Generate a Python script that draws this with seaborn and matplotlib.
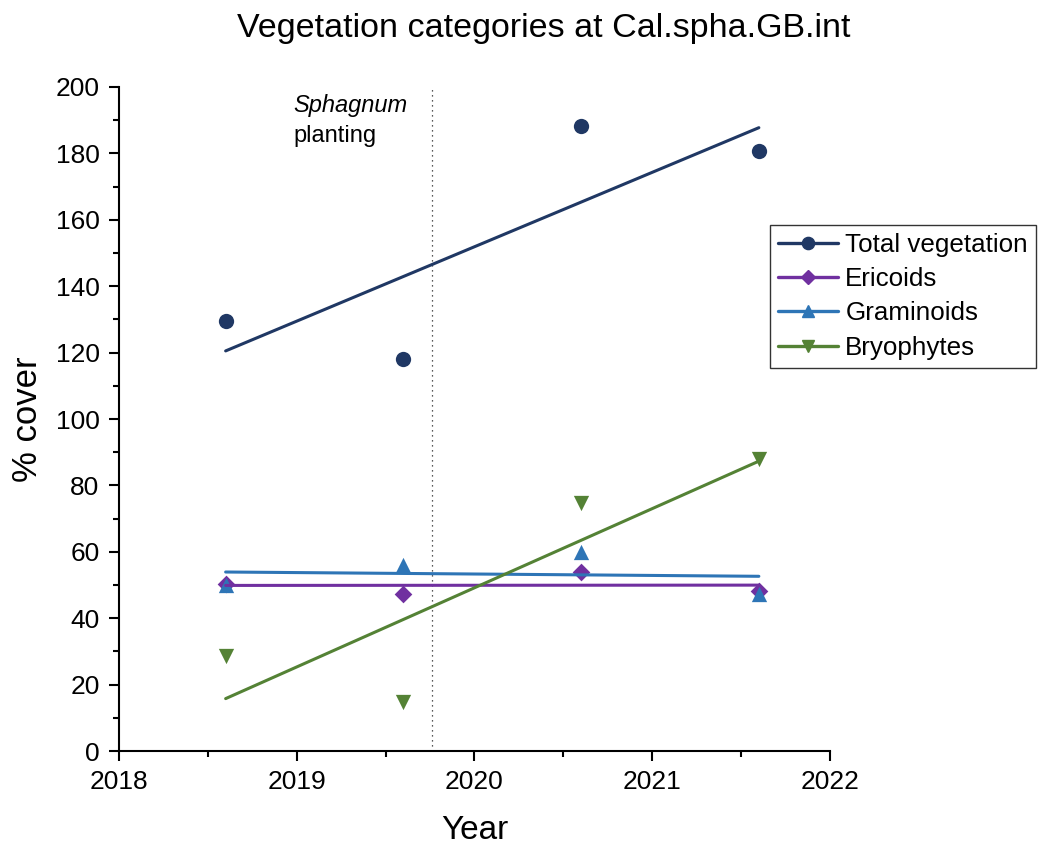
import numpy as np
import pandas as pd
import matplotlib
matplotlib.use('Agg')
import matplotlib.pyplot as plt
from matplotlib.lines import Line2D
from matplotlib.ticker import MultipleLocator
import seaborn as sns

years = [2018.6, 2019.6, 2020.6, 2021.6]
total_veg = [129.4, 118.1, 188.3, 180.7]
ericoids = [50.3, 47.3, 53.9, 48.2]
graminoids = [50.0, 56.0, 59.8, 47.3]
bryophytes = [28.5, 14.9, 74.8, 88.0]
planting_year = 2019.76

series = [
    ('Total vegetation', total_veg, '#203864', 'o', 11),
    ('Ericoids', ericoids, '#7030a0', 'D', 9),
    ('Graminoids', graminoids, '#2e75b6', '^', 11),
    ('Bryophytes', bryophytes, '#548235', 'v', 11),
]

sns.set_style('ticks')
plt.rcParams['font.family'] = ['Liberation Sans', 'DejaVu Sans']
plt.rcParams['text.color'] = 'black'
plt.rcParams['axes.labelcolor'] = 'black'
plt.rcParams['xtick.color'] = 'black'
plt.rcParams['ytick.color'] = 'black'

fig = plt.figure(figsize=(10.42, 8.52), dpi=100)
ax = fig.add_axes([0.1142, 0.1185, 0.6823, 0.7794])

handles = []
for name, vals, color, marker, ms in series:
    df = pd.DataFrame({'Year': years, 'cover': vals})
    sns.regplot(data=df, x='Year', y='cover', ci=None, marker=marker, color=color,
                scatter_kws=dict(s=ms ** 2, linewidths=0, alpha=1),
                line_kws=dict(lw=2.2), ax=ax)
    handles.append(Line2D([], [], color=color, marker=marker, markersize=ms * 0.8,
                          lw=2.4, label=name))

ax.axvline(planting_year, color='#222222', ls=(0, (1, 3)), lw=0.9, zorder=0)
ax.text(2018.98, 198, 'Sphagnum', style='italic', fontsize=17, va='top')
ax.text(2018.98, 188.5, 'planting', fontsize=17, va='top')

ax.set_xlim(2018, 2022)
ax.set_ylim(0, 200)
ax.xaxis.set_major_locator(MultipleLocator(1))
ax.xaxis.set_minor_locator(MultipleLocator(0.5))
ax.yaxis.set_major_locator(MultipleLocator(20))
ax.yaxis.set_minor_locator(MultipleLocator(10))
ax.tick_params(which='major', length=7, width=1.5, labelsize=19, pad=7)
ax.tick_params(which='minor', length=4, width=1.5)
for s in ['left', 'bottom']:
    ax.spines[s].set_linewidth(1.5)
    ax.spines[s].set_color('black')
sns.despine(ax=ax)

ax.set_xlabel('Year', fontsize=24, labelpad=15)
ax.set_ylabel('% cover', fontsize=25, labelpad=8)
fig.suptitle('Vegetation categories at Cal.spha.GB.int', fontsize=24.5, x=0.522, y=0.985)

leg = fig.legend(handles=handles, loc='upper left', bbox_to_anchor=(0.739, 0.736),
                 fontsize=18.7, frameon=True, fancybox=False, edgecolor='black',
                 handlelength=2.3, handletextpad=0.3, borderpad=0.3, labelspacing=0.4,
                 borderaxespad=0)
leg.get_frame().set_linewidth(1.0)

fig.savefig('out.png', dpi=100)
